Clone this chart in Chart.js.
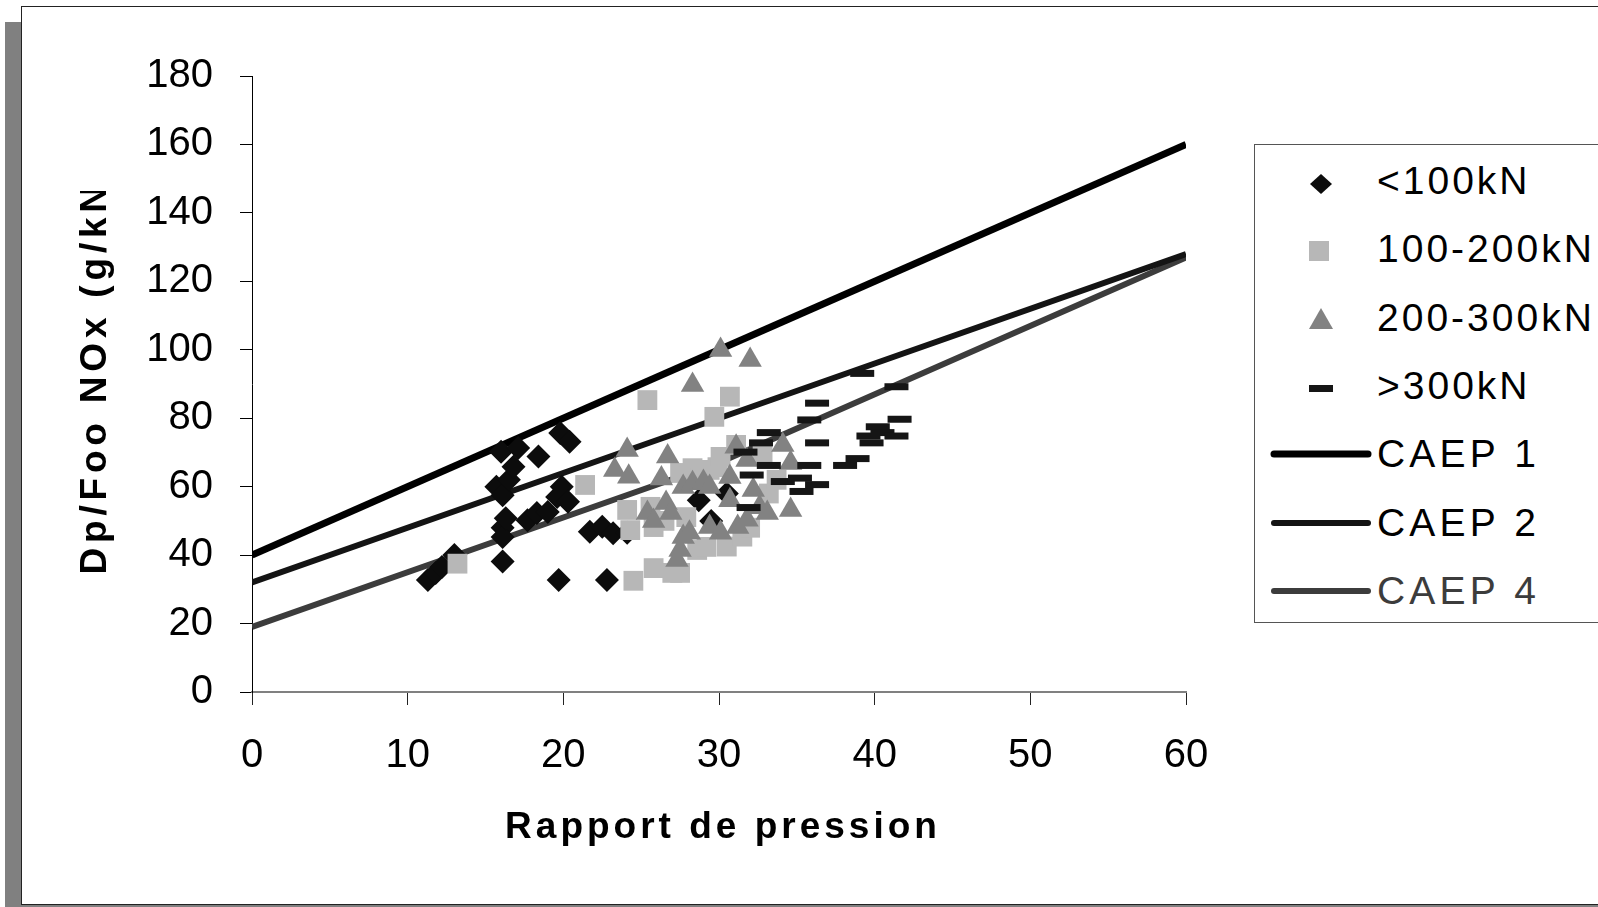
<!DOCTYPE html>
<html>
<head>
<meta charset="utf-8">
<script src="https://cdn.jsdelivr.net/npm/chart.js@4"></script>
<style>
  html, body { margin: 0; padding: 0; background: #fff; }
  body { width: 1598px; height: 907px; position: relative; overflow: hidden; font-family: "Liberation Sans", Arial, sans-serif; }
  #shadowLeft { position: absolute; left: 5px; top: 22px; width: 16px; height: 885px; background: #808080; }
  #shadowBottom { position: absolute; left: 5px; top: 904px; width: 1593px; height: 3px; background: #808080; }
  #frame { position: absolute; left: 21px; top: 6px; width: 1600px; height: 897px; border: 1px solid #222; background: #fff; }
  #wrap { position: absolute; left: 0; top: 0; width: 1598px; height: 907px; }
  .title { position: absolute; font-weight: bold; font-size: 37px; line-height: 37px; color: #000; white-space: nowrap; }
  #xTitle { left: 419px; width: 600px; top: 807px; text-align: center; letter-spacing: 4px; padding-left: 4px; }
  #yClip { position: absolute; left: 70px; top: 191px; width: 50px; height: 395px; overflow: hidden; }
  #yTitle { position: absolute; left: 5px; bottom: 12px; writing-mode: vertical-rl; transform: rotate(180deg); letter-spacing: 4.8px; }
  #legend { position: absolute; left: 1254px; top: 144px; width: 400px; height: 477px; border: 1px solid #555; background: #fff; }
  .row { position: absolute; left: 0; height: 40px; width: 400px; }
  .row svg { position: absolute; left: 0; top: 0; }
  .row span { position: absolute; left: 122px; top: 0; font-size: 39px; line-height: 39px; letter-spacing: 3px; white-space: nowrap; color: #000; }
  .row span.wide { letter-spacing: 4.2px; }
</style>
</head>
<body>
<div id="shadowLeft"></div>
<div id="shadowBottom"></div>
<div id="frame"></div>
<div id="wrap"><canvas id="myChart"></canvas></div>
<div class="title" id="xTitle">Rapport de pression</div>
<div id="yClip"><div class="title" id="yTitle">Dp/Foo NOx (g/kN)</div></div>
<div id="legend"></div>
<script>
// nuages de points : [rapport de pression, Dp/Foo]
const below100 = [[11.3,32.7],[11.8,34.8],[12.2,36.5],[13,40],[15.7,60],[16,70.2],[16.1,57.5],[16.1,48],[16.1,45.3],[16.1,38.1],
  [16.3,50.8],[16.5,62],[16.8,65.8],[17.1,71.3],[17.7,50.2],[18.3,52.3],[18.4,68.8],[19,52.6],[19.6,57],[19.7,32.7],
  [19.8,75.7],[19.9,60],[20.3,55.6],[20.4,73.1],[21.7,46.8],[22.5,48.3],[22.8,32.7],[23.2,46.4],[24.1,46.5],[28.7,56],
  [29.5,50],[30.5,58]];
const from100to200 = [[13.2,37.5],[21.4,60.5],[24.1,53.2],[24.3,47.3],[24.5,32.5],[25.4,85.3],[25.6,54.1],[25.8,48.2],[25.8,36.2],
  [26.5,50],[27,34.8],[27.5,64],[27.5,34.8],[27.9,51.1],[28.3,65.4],[28.6,41.5],[28.8,62.8],[29.2,42.4],[29.4,64.9],
  [29.7,80.4],[29.9,65.7],[30.1,68.7],[30.5,42.5],[30.7,86.3],[31.1,72.2],[31.5,45.4],[32,48],[32.8,69.8],[33.2,58],[33.7,62]];
const from200to300 = [[23.3,64.9],[24.1,70.7],[24.2,62.9],[25.4,52.3],[25.8,50],[26.3,62.4],[26.6,55.2],[26.7,68.8],[26.9,52.3],
  [27.3,38.6],[27.5,41.5],[27.7,45.3],[27.7,59.9],[28.1,46.5],[28.3,61],[28.3,89.7],[29,61.4],[29.4,59.9],[29.4,48.2],
  [30.1,46.5],[30.1,99.9],[30.7,62.8],[30.7,56],[31.1,71.7],[31.2,48.2],[31.8,67.8],[31.8,50.3],[32,97],[32.2,59],
  [32.6,54],[33.1,52.3],[34.1,72.2],[34.6,66.9],[34.6,53.2]];
const above300 = [[31.7,70.1],[31.9,53.9],[32.1,63.4],[32.7,72.8],[33.2,75.8],[33.2,66.2],[34.1,61.5],[35.2,62.5],[35.3,58.6],
  [35.8,79.5],[35.8,66.2],[36.3,84.4],[36.3,72.8],[36.3,60.6],[38.1,66.2],[38.9,68.2],[39.2,93.1],[39.6,74.8],[39.8,72.8],
  [40.2,77.5],[40.5,75.8],[41.4,74.8],[41.4,89.2],[41.6,79.7]];

// normes CAEP
const caepX = [0, 30, 60];
const caep1Y = [40, 100, 160];
const caep2Y = [32, 80, 128];
const caep4Y = [19, 67, 127];

const xTicks = [0, 10, 20, 30, 40, 50, 60];
const yTicks = [0, 20, 40, 60, 80, 100, 120, 140, 160, 180];

const toPoints = arr => arr.map(p => ({ x: p[0], y: p[1] }));
const toLine = ys => caepX.map((x, i) => ({ x: x, y: ys[i] }));

function scatterSet(label, data, style, color, radius, order, extra) {
    return Object.assign({
        label: label,
        data: toPoints(data),
        pointStyle: style,
        backgroundColor: color,
        borderColor: color,
        pointRadius: radius,
        pointHoverRadius: radius,
        pointBorderWidth: 0,
        showLine: false,
        order: order
    }, extra || {});
}

function lineSet(label, ys, color, width) {
    return {
        label: label,
        data: toLine(ys),
        showLine: true,
        borderColor: color,
        borderWidth: width,
        pointRadius: 0,
        fill: false,
        order: 10
    };
}

const datasets = [
    scatterSet('<100kN', below100, 'rectRot', '#0c0c0c', 12, 4),
    scatterSet('100-200kN', from100to200, 'rect', '#b7b7b7', 14, 3),
    scatterSet('200-300kN', from200to300, 'triangle', '#828282', 13.5, 2),
    scatterSet('>300kN', above300, 'line', '#151515', 12, 1, { pointBorderWidth: 7 }),
    lineSet('CAEP 1', caep1Y, '#000000', 7),
    lineSet('CAEP 2', caep2Y, '#141414', 6),
    lineSet('CAEP 4', caep4Y, '#3c3c3c', 6)
];

const tickFont = { family: '"Liberation Sans", Arial, sans-serif', size: 40 };

new Chart(document.getElementById('myChart').getContext('2d'), {
    type: 'scatter',
    data: { datasets: datasets },
    options: {
        responsive: true,
        maintainAspectRatio: false,
        animation: false,
        layout: { padding: { top: 76, right: 412, bottom: 115, left: 0 } },
        plugins: { legend: { display: false }, tooltip: { enabled: false } },
        scales: {
            x: {
                type: 'linear', min: 0, max: 60,
                afterFit: s => { s.height = 100; },
                afterBuildTicks: s => { s.ticks = xTicks.map(v => ({ value: v })); },
                border: { color: '#808080', width: 2 },
                grid: { drawOnChartArea: false, tickLength: 13, tickColor: '#222', tickWidth: 1 },
                ticks: { color: '#000', font: tickFont, padding: 27, maxRotation: 0 }
            },
            y: {
                type: 'linear', min: 0, max: 180,
                afterFit: s => { s.width = 252; },
                afterBuildTicks: s => { s.ticks = yTicks.map(v => ({ value: v })); },
                border: { color: '#000', width: 1 },
                grid: { drawOnChartArea: false, tickLength: 12, tickColor: '#000', tickWidth: 1 },
                ticks: { color: '#000', font: tickFont, padding: 27 }
            }
        }
    }
});

// légende (cadre à droite)
const legendItems = [
    { text: '<100kN', sym: '<polygon points="66,29 77,39 66,49 55,39" fill="#0c0c0c"/>' },
    { text: '100-200kN', sym: '<rect x="54" y="28" width="20" height="20" fill="#b7b7b7"/>' },
    { text: '200-300kN', sym: '<polygon points="66,26 78,47 54,47" fill="#828282"/>' },
    { text: '>300kN', sym: '<rect x="54" y="35" width="24" height="7" fill="#151515"/>' },
    { text: 'CAEP 1', wide: true, sym: '<line x1="19" y1="20" x2="113" y2="20" stroke="#000" stroke-width="7" stroke-linecap="round"/>' },
    { text: 'CAEP 2', wide: true, sym: '<line x1="19" y1="20" x2="113" y2="20" stroke="#141414" stroke-width="6" stroke-linecap="round"/>' },
    { text: 'CAEP 4', wide: true, sym: '<line x1="19" y1="20" x2="113" y2="20" stroke="#3c3c3c" stroke-width="6" stroke-linecap="round"/>', color: '#3c3c3c' }
];
const legend = document.getElementById('legend');
legendItems.forEach((item, i) => {
    const row = document.createElement('div');
    row.className = 'row';
    row.style.top = (16 + i * 68.3) + 'px';
    row.innerHTML = '<svg width="130" height="60" style="top:' + (i < 4 ? -16 : 0) + 'px">' + item.sym + '</svg>';
    const span = document.createElement('span');
    span.textContent = item.text;
    if (item.wide) span.className = 'wide';
    if (item.color) span.style.color = item.color;
    row.appendChild(span);
    legend.appendChild(row);
});
</script>
</body>
</html>
